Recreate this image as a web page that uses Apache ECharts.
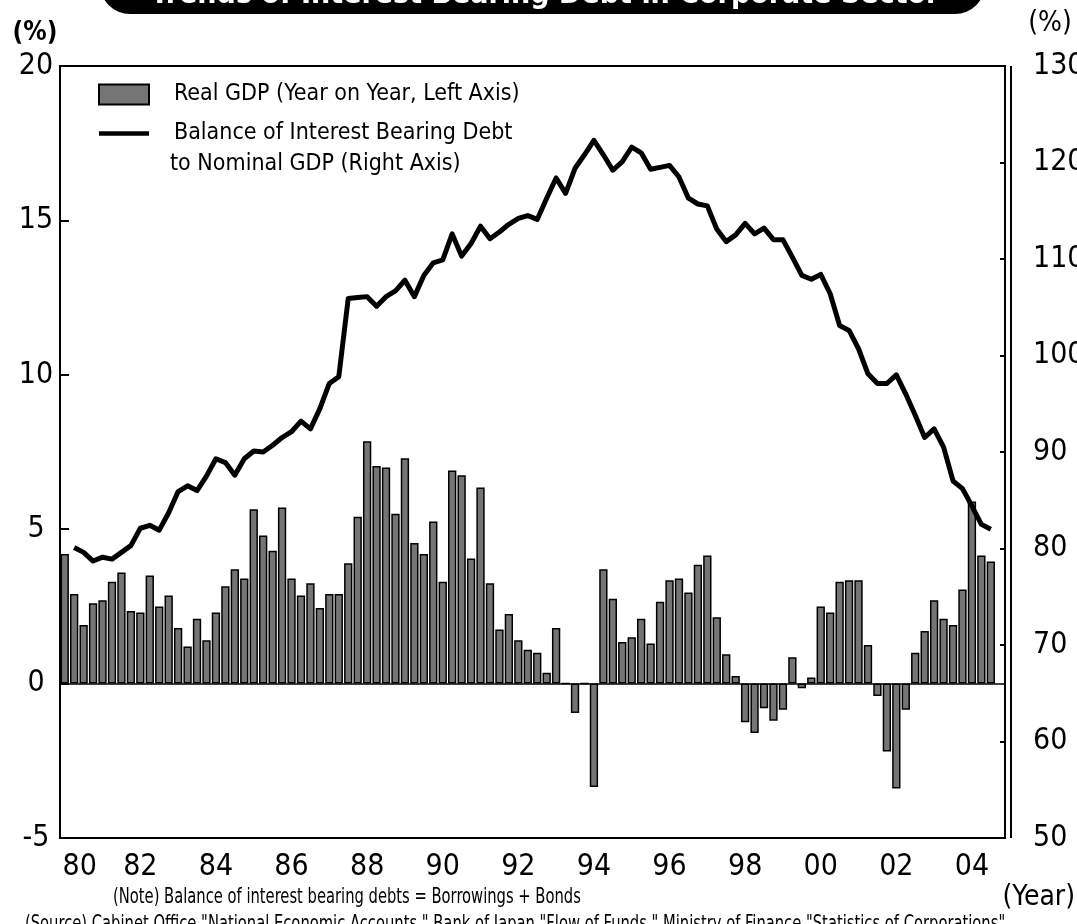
<!DOCTYPE html>
<html>
<head>
<meta charset="utf-8">
<script src="https://cdn.jsdelivr.net/npm/echarts@6/dist/echarts.min.js"></script>
<style>
  html, body { margin: 0; padding: 0; background: #fff; }
  #chart { width: 1077px; height: 924px; }
</style>
</head>
<body>
<div id="chart"></div>
<script>
// tick labels on the bottom axis (one every two years)
var years = ['80', '82', '84', '86', '88', '90', '92', '94', '96', '98', '00', '02', '04'];

// real GDP, year on year (%), quarterly from 1980Q1
var realGdp = [
  4.2, 2.9, 1.9, 2.6, 2.7, 3.3, 3.6, 2.35, 2.3, 3.5, 2.5, 2.85,
  1.8, 1.2, 2.1, 1.4, 2.3, 3.15, 3.7, 3.4, 5.65, 4.8, 4.3, 5.7,
  3.4, 2.85, 3.25, 2.45, 2.9, 2.9, 3.9, 5.4, 7.85, 7.05, 7.0, 5.5,
  7.3, 4.55, 4.2, 5.25, 3.3, 6.9, 6.75, 4.05, 6.35, 3.25, 1.75, 2.25,
  1.4, 1.1, 1.0, 0.35, 1.8, 0, -0.95, 0, -3.35, 3.7, 2.75, 1.35,
  1.5, 2.1, 1.3, 2.65, 3.35, 3.4, 2.95, 3.85, 4.15, 2.15, 0.95, 0.25,
  -1.25, -1.6, -0.8, -1.2, -0.85, 0.85, -0.15, 0.2, 2.5, 2.3, 3.3, 3.35,
  3.35, 1.25, -0.4, -2.2, -3.4, -0.85, 1.0, 1.7, 2.7, 2.1, 1.9, 3.05,
  5.9, 4.15, 3.95
];

// interest bearing debt / nominal GDP (%), quarterly, starts 1980Q2
var debtRatio = [
  null, 80.1, 79.6, 78.7, 79.1, 78.9, 79.6, 80.3, 82.1, 82.4, 81.9, 83.7,
  85.9, 86.5, 86.0, 87.5, 89.3, 88.9, 87.6, 89.3, 90.1, 90.0, 90.7, 91.5,
  92.1, 93.2, 92.4, 94.5, 97.1, 97.8, 105.9, 106.0, 106.1, 105.1, 106.1, 106.7,
  107.8, 106.1, 108.3, 109.6, 109.9, 112.6, 110.3, 111.6, 113.4, 112.1, 112.8, 113.6,
  114.2, 114.5, 114.1, 116.3, 118.4, 116.8, 119.4, 120.8, 122.3, 120.8, 119.2, 120.1,
  121.6, 121.0, 119.3, 119.5, 119.7, 118.5, 116.3, 115.7, 115.5, 113.1, 111.8, 112.5,
  113.7, 112.6, 113.2, 112.0, 112.0, 110.2, 108.3, 107.9, 108.4, 106.4, 103.1, 102.6,
  100.7, 98.1, 97.1, 97.1, 98.0, 96.0, 93.8, 91.5, 92.4, 90.5, 87.0, 86.2,
  84.4, 82.5, 82.0
];

// quarters 1980Q1 .. 2004Q4
var quarters = [];
for (var y = 1980; y <= 2004; y++) {
  for (var q = 1; q <= 4; q++) {
    quarters.push(y + 'Q' + q);
  }
}

var FONT = '"DejaVu Sans Condensed", "DejaVu Sans", sans-serif';

var chart = echarts.init(document.getElementById('chart'), null, { renderer: 'canvas' });

var option = {
  animation: false,
  backgroundColor: '#fff',
  grid: {
    left: 60, right: 72, top: 66, bottom: 86,
    outerBoundsMode: 'none',
    show: true, borderColor: '#000', borderWidth: 2, backgroundColor: 'transparent'
  },
  legend: {
    orient: 'vertical',
    left: 93, top: 78,
    itemWidth: 50, itemHeight: 20, itemGap: 16,
    textStyle: { fontFamily: FONT, fontSize: 23, color: '#000', padding: [0, 0, 0, 20] },
    data: [
      { name: 'Real GDP (Year on Year, Left Axis)', icon: 'rect' },
      { name: 'Balance of Interest Bearing Debt', icon: 'path://M0,0H50V4.5H0Z', itemStyle: { color: '#000' } }
    ]
  },
  xAxis: {
    type: 'category',
    data: quarters,
    boundaryGap: true,
    axisLine: { show: false },
    axisTick: { show: false },
    axisLabel: {
      interval: 7,
      margin: 14,
      color: '#000',
      fontFamily: FONT,
      fontSize: 30,
      formatter: function (v, i) {
        var label = years[i / 8];
        return i === 0 ? '{first|' + label + '}' : label;
      },
      rich: {
        first: { fontFamily: FONT, fontSize: 30, color: '#000', padding: [0, 0, 0, 30] }
      }
    }
  },
  yAxis: [
    {
      type: 'value',
      min: -5, max: 20, interval: 5,
      axisLine: { show: false },
      axisTick: { show: true, inside: true, length: 9, lineStyle: { color: '#000', width: 2 } },
      splitLine: { show: false },
      axisLabel: { color: '#000', fontFamily: FONT, fontSize: 30, align: 'center', margin: 24 }
    },
    {
      type: 'value',
      min: 50, max: 130, interval: 10,
      position: 'right',
      axisLine: { show: false },
      axisTick: { show: true, inside: true, length: 5, lineStyle: { color: '#000', width: 2 } },
      splitLine: { show: false },
      axisLabel: { color: '#000', fontFamily: FONT, fontSize: 30, margin: 28 }
    }
  ],
  series: [
    {
      name: 'Real GDP (Year on Year, Left Axis)',
      type: 'bar',
      yAxisIndex: 0,
      data: realGdp,
      barCategoryGap: '12%',
      itemStyle: { color: '#757575', borderColor: '#000', borderWidth: 1.5 },
      z: 2,
      markLine: {
        silent: true,
        symbol: 'none',
        label: { show: false },
        lineStyle: { color: '#000', width: 1.5, type: 'solid' },
        data: [{ yAxis: 0 }]
      }
    },
    {
      name: 'Balance of Interest Bearing Debt',
      type: 'line',
      yAxisIndex: 1,
      data: debtRatio,
      symbol: 'none',
      connectNulls: false,
      lineStyle: { color: '#000', width: 5, join: 'round' },
      itemStyle: { color: '#000' },
      z: 5
    }
  ],
  graphic: [
    // second line of the legend label
    {
      type: 'text', x: 170, y: 164,
      style: { text: 'to Nominal GDP (Right Axis)', font: '23px ' + FONT, fill: '#000', verticalAlign: 'middle' }
    },
    // outer line of the double right frame
    {
      type: 'line',
      shape: { x1: 1011, y1: 66, x2: 1011, y2: 838 },
      style: { stroke: '#000', lineWidth: 2 }
    },
    // title banner, cut off at the top of the picture
    {
      type: 'rect',
      shape: { x: 100, y: -70, width: 885, height: 84, r: 30 },
      style: { fill: '#000' }
    },
    {
      type: 'text', x: 545, y: 10,
      style: {
        text: 'Trends of Interest Bearing Debt in Corporate Sector',
        font: 'bold 30px ' + FONT, fill: '#fff', align: 'center', verticalAlign: 'bottom'
      }
    },
    {
      type: 'text', x: 35, y: 33,
      style: { text: '(%)', font: 'bold 26px ' + FONT, fill: '#000', align: 'center', verticalAlign: 'middle' }
    },
    {
      type: 'text', x: 1050, y: 24,
      style: { text: '(%)', font: '28px ' + FONT, fill: '#000', align: 'center', verticalAlign: 'middle' }
    },
    {
      type: 'text', x: 1075, y: 898,
      style: { text: '(Year)', font: '28px ' + FONT, fill: '#000', align: 'right', verticalAlign: 'middle' }
    },
    {
      type: 'text', x: 113, y: 898, scaleX: 0.78,
      style: {
        text: '(Note) Balance of interest bearing debts = Borrowings + Bonds',
        font: '21px ' + FONT, fill: '#000', verticalAlign: 'middle'
      }
    },
    {
      type: 'text', x: 25, y: 914, scaleX: 0.78,
      style: {
        text: '(Source) Cabinet Office "National Economic Accounts," Bank of Japan "Flow of Funds," Ministry of Finance "Statistics of Corporations"',
        font: '21px ' + FONT, fill: '#000', verticalAlign: 'top'
      }
    }
  ]
};

chart.setOption(option);
</script>
</body>
</html>
